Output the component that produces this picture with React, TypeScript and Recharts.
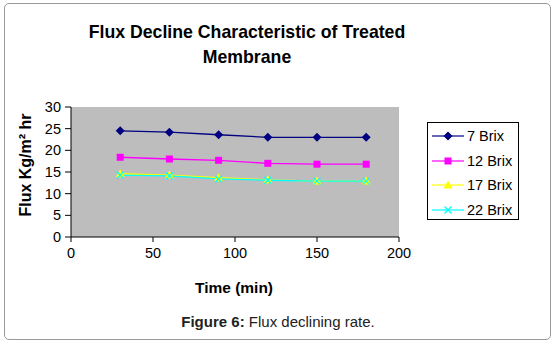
import React from 'react';
import { LineChart, Line, XAxis, YAxis, CartesianGrid } from 'recharts';

// time points (min)
const times = [30, 60, 90, 120, 150, 180];
// flux values per brix level
const brix7 = [24.5, 24.2, 23.6, 23.0, 23.0, 23.0];
const brix12 = [18.4, 18.0, 17.7, 17.0, 16.8, 16.8];
const brix17 = [14.6, 14.3, 13.7, 13.2, 12.9, 12.9];
const brix22 = [14.3, 14.1, 13.4, 13.1, 12.9, 12.9];
const xTicks = [0, 50, 100, 150, 200];
const yTicks = [0, 5, 10, 15, 20, 25, 30];

const seriesNames = ['7 Brix', '12 Brix', '17 Brix', '22 Brix'];
const seriesColors = ['#000080', '#FF00FF', '#FFFF00', '#00FFFF'];
const seriesShapes = ['diamond', 'square', 'triangle', 'cross'];

const data = times.map((t, i) => ({
  time: t,
  b7: brix7[i],
  b12: brix12[i],
  b17: brix17[i],
  b22: brix22[i],
}));

const Marker = ({ shape, color, cx, cy }: { shape: string; color: string; cx: number; cy: number }) => {
  switch (shape) {
    case 'diamond':
      return <polygon points={`${cx},${cy - 4.5} ${cx + 4.5},${cy} ${cx},${cy + 4.5} ${cx - 4.5},${cy}`} fill={color} />;
    case 'square':
      return <rect x={cx - 3.5} y={cy - 3.5} width={7} height={7} fill={color} />;
    case 'triangle':
      return <polygon points={`${cx},${cy - 4.5} ${cx + 4.5},${cy + 3.5} ${cx - 4.5},${cy + 3.5}`} fill={color} />;
    default:
      return (
        <g stroke={color} strokeWidth={1.3}>
          <line x1={cx - 3.5} y1={cy - 3.5} x2={cx + 3.5} y2={cy + 3.5} />
          <line x1={cx - 3.5} y1={cy + 3.5} x2={cx + 3.5} y2={cy - 3.5} />
        </g>
      );
  }
};

const makeDot = (idx: number) => (props: any) => (
  <Marker key={`${idx}-${props.index}`} shape={seriesShapes[idx]} color={seriesColors[idx]} cx={props.cx} cy={props.cy} />
);

const font = 'Arial, "Liberation Sans", sans-serif';

const ChartLegend = () => (
  <div
    style={{
      position: 'absolute',
      left: 427,
      top: 122,
      width: 92,
      height: 98,
      border: '1px solid #000',
      background: '#fff',
      boxSizing: 'border-box',
      paddingTop: 1,
    }}
  >
    {seriesNames.map((name, i) => (
      <div key={name} style={{ display: 'flex', alignItems: 'center', height: 24.5 }}>
        <svg width={34} height={12} style={{ marginLeft: 4 }}>
          <line x1={0} y1={6} x2={32} y2={6} stroke={seriesColors[i]} strokeWidth={1.2} />
          <Marker shape={seriesShapes[i]} color={seriesColors[i]} cx={16} cy={6} />
        </svg>
        <span style={{ fontSize: 14.5, color: '#000', marginLeft: 1 }}>{name}</span>
      </div>
    ))}
  </div>
);

export default function App() {
  return (
    <div style={{ position: 'absolute', left: 0, top: 0, width: 554, height: 342, background: '#fff', fontFamily: font }}>
      <div style={{ position: 'absolute', left: 4, top: 3, width: 545, height: 335, border: '1px solid #999', borderRadius: 5 }} />
      <div style={{ position: 'absolute', left: 47, width: 400, top: 20, textAlign: 'center', fontWeight: 'bold', fontSize: 17.7, lineHeight: '25px', color: '#000' }}>
        Flux Decline Characteristic of Treated
        <br />
        Membrane
      </div>
      <div style={{ position: 'absolute', left: 26, top: 165, transform: 'translate(-50%, -50%) rotate(-90deg)', whiteSpace: 'nowrap', fontWeight: 'bold', fontSize: 16, color: '#000' }}>
        Flux Kg/m² hr
      </div>
      <div style={{ position: 'absolute', left: 184, width: 100, top: 279, textAlign: 'center', fontWeight: 'bold', fontSize: 15.5, color: '#000' }}>
        Time (min)
      </div>
      <div style={{ position: 'absolute', left: 178, width: 200, top: 313, textAlign: 'center', fontSize: 15, color: '#222', whiteSpace: 'nowrap' }}>
        <b>Figure 6:</b> Flux declining rate.
      </div>
      <LineChart
        width={554}
        height={342}
        data={data}
        margin={{ top: 107, right: 155, bottom: 75, left: 41 }}
        style={{ position: 'absolute', left: 0, top: 0 }}
      >
        <CartesianGrid fill="#BDBDBE" horizontal={false} vertical={false} stroke="none" />
        <XAxis
          dataKey="time"
          type="number"
          domain={[0, 200]}
          ticks={xTicks}
          interval={0}
          height={30}
          stroke="#000"
          tickSize={5}
          tickMargin={6}
          tick={{ fill: '#000', fontSize: 14.5, fontFamily: font }}
        />
        <YAxis
          type="number"
          domain={[0, 30]}
          ticks={yTicks}
          interval={0}
          width={30}
          stroke="#000"
          tickSize={6}
          tickMargin={4}
          tick={{ fill: '#000', fontSize: 14.5, fontFamily: font }}
        />
        {['b7', 'b12', 'b17', 'b22'].map((key, i) => (
          <Line
            key={key}
            dataKey={key}
            name={seriesNames[i]}
            stroke={seriesColors[i]}
            strokeWidth={1.3}
            type="linear"
            dot={makeDot(i)}
            activeDot={false}
            isAnimationActive={false}
          />
        ))}
      </LineChart>
      <ChartLegend />
    </div>
  );
}
